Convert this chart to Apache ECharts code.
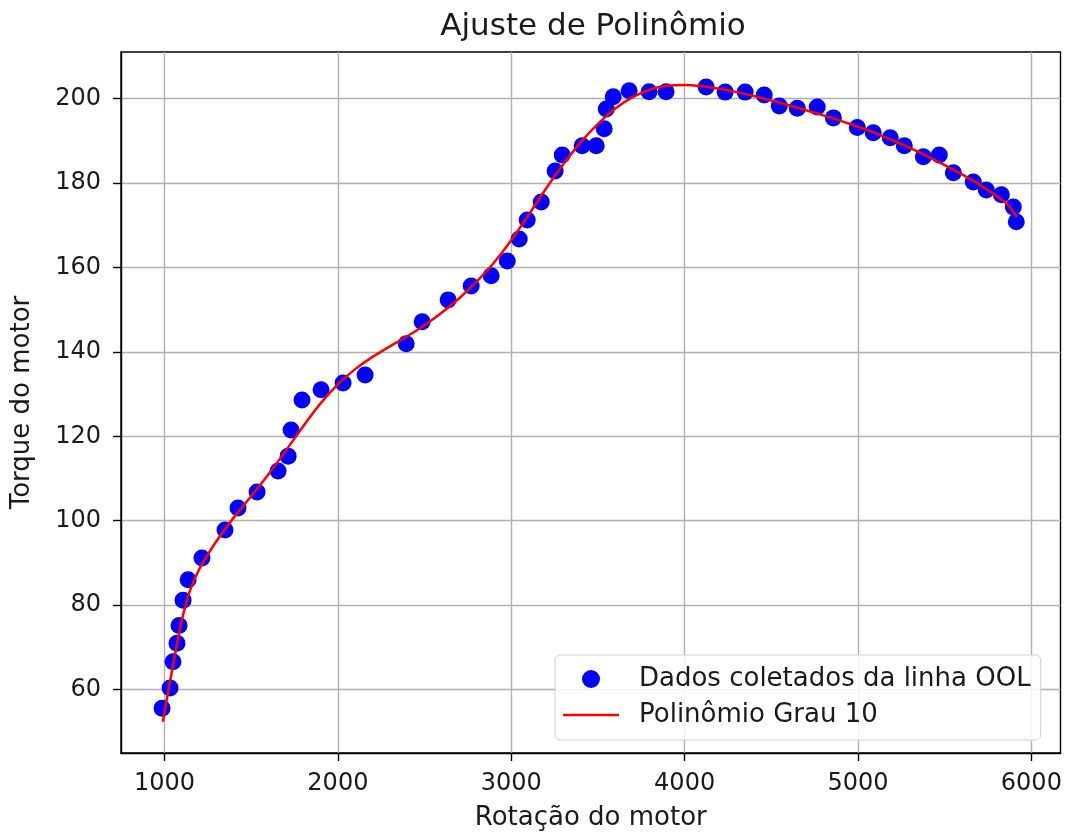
<!DOCTYPE html>
<html>
<head>
<meta charset="utf-8">
<script src="https://cdn.jsdelivr.net/npm/echarts@6/dist/echarts.min.js"></script>
<style>
html,body{margin:0;padding:0;background:#fff;}
#chart{width:1067px;height:837px;}
</style>
</head>
<body>
<div id="chart"></div>
<script>
// Measured data (scatter)
const scatterX = [986,1032,1049,1072,1084,1107,1136,1216,1349,1424,1534,1655,1713,1730,1793,1903,2030,2157,2394,2486,2636,2769,2884,2977,3046,3092,3173,3253,3294,3409,3490,3536,3548,3588,3680,3795,3893,4124,4234,4349,4459,4546,4650,4765,4858,4996,5088,5186,5267,5377,5469,5550,5665,5740,5827,5896,5913];
const scatterY = [55.6,60.4,66.6,71.0,75.2,81.2,86.0,91.2,97.8,103.0,106.8,111.8,115.3,121.5,128.6,131.0,132.6,134.5,141.9,147.1,152.3,155.6,158.0,161.5,166.7,171.2,175.5,182.8,186.6,188.8,188.8,192.8,197.5,200.4,201.8,201.6,201.6,202.7,201.5,201.5,200.8,198.2,197.7,198.0,195.4,193.1,191.9,190.7,188.8,186.2,186.6,182.4,180.2,178.3,177.2,174.3,170.8];

// Fitted polynomial curve
const curveX = [990,1010,1030,1050,1075,1100,1125,1150,1200,1250,1300,1400,1500,1600,1700,1800,1900,2000,2100,2200,2300,2400,2500,2600,2700,2800,2900,3000,3100,3200,3300,3400,3500,3600,3700,3800,3900,4000,4100,4200,4300,4400,4500,4600,4700,4800,4900,5000,5100,5200,5300,5400,5500,5600,5700,5800,5860,5917];
const curveY = [52.4,57.0,61.5,66.0,71.5,76.5,80.5,83.8,88.5,92.0,95.2,100.8,105.8,111.0,116.6,122.4,127.8,132.3,135.9,138.8,141.3,143.7,146.3,149.3,152.7,156.6,161.1,166.4,172.4,178.6,184.4,189.6,194.0,197.6,200.3,202.1,203.0,203.2,202.9,202.3,201.5,200.6,199.5,198.4,197.2,196.0,194.7,193.3,191.8,190.1,188.3,186.3,184.2,182.0,179.6,176.9,175.0,172.0];

const xTicks = [1000,2000,3000,4000,5000,6000];
const yTicks = [60,80,100,120,140,160,180,200];

const titleText = 'Ajuste de Polinômio';
const xName = 'Rotação do motor';
const yName = 'Torque do motor';
const scatterName = 'Dados coletados da linha OOL';
const lineName = 'Polinômio Grau 10';

const FONT = 'DejaVu Sans';
const chart = echarts.init(document.getElementById('chart'), null, {renderer:'canvas'});

const scatterData = scatterX.map((x,i)=>[x, scatterY[i]]);
const curveData = curveX.map((x,i)=>[x, curveY[i]]);

chart.setOption({
  animation: false,
  backgroundColor: '#ffffff',
  title: {
    text: titleText,
    left: 588,
    textAlign: 'center',
    top: 6,
    textStyle: {fontFamily: FONT, fontSize: 31, fontWeight: 'normal', color: '#1a1a1a'}
  },
  grid: {
    left: 121, right: 6.5, top: 52, bottom: 84,
    show: true, borderColor: '#000', borderWidth: 1.4, backgroundColor: 'transparent'
  },
  legend: {
    orient: 'vertical',
    left: 555, top: 655,
    padding: [11, 10, 12, 8],
    itemGap: 10,
    itemWidth: 56, itemHeight: 18,
    backgroundColor: 'rgba(255,255,255,0.85)',
    borderColor: '#d0d0d0', borderWidth: 1, borderRadius: 5,
    selectedMode: false,
    textStyle: {fontFamily: FONT, fontSize: 26, lineHeight: 26, color: '#1a1a1a', padding: [0,0,0,15]},
    data: [
      {name: scatterName, icon: 'circle'},
      {name: lineName, icon: 'path://M0 0H112V5H0Z'}
    ]
  },
  xAxis: {
    type: 'value',
    min: 749, max: 6168,
    name: xName, nameLocation: 'middle', nameGap: 52,
    nameTextStyle: {fontFamily: FONT, fontSize: 26, color: '#1a1a1a'},
    axisLine: {show: true, onZero: false, lineStyle: {color: '#000', width: 1.4}},
    axisTick: {show: true, inside: false, length: 8, lineStyle: {color: '#000', width: 1.4}, customValues: xTicks},
    axisLabel: {fontFamily: FONT, fontSize: 24, color: '#1a1a1a', margin: 19, customValues: xTicks,
      formatter: v => String(Math.round(v))},
    splitLine: {show: true, lineStyle: {color: '#b0b0b0', width: 1.4}}
  },
  yAxis: {
    type: 'value',
    min: 45, max: 211,
    name: yName, nameLocation: 'middle', nameGap: 86, nameRotate: 90,
    nameTextStyle: {fontFamily: FONT, fontSize: 26, color: '#1a1a1a'},
    axisLine: {show: true, onZero: false, lineStyle: {color: '#000', width: 1.4}},
    axisTick: {show: true, inside: false, length: 8, lineStyle: {color: '#000', width: 1.4}, customValues: yTicks},
    axisLabel: {fontFamily: FONT, fontSize: 24, color: '#1a1a1a', margin: 20, customValues: yTicks,
      formatter: v => String(Math.round(v))},
    splitLine: {show: true, lineStyle: {color: '#b0b0b0', width: 1.4}}
  },
  series: [
    {
      name: scatterName,
      type: 'scatter',
      data: scatterData,
      symbol: 'circle',
      symbolSize: 17,
      itemStyle: {color: '#0000ff', opacity: 1},
      z: 2
    },
    {
      name: lineName,
      type: 'line',
      data: curveData,
      showSymbol: false,
      symbol: 'none',
      smooth: 0.2,
      lineStyle: {color: '#ff0000', width: 2.5},
      itemStyle: {color: '#ff0000'},
      z: 3
    }
  ]
});
</script>
</body>
</html>
